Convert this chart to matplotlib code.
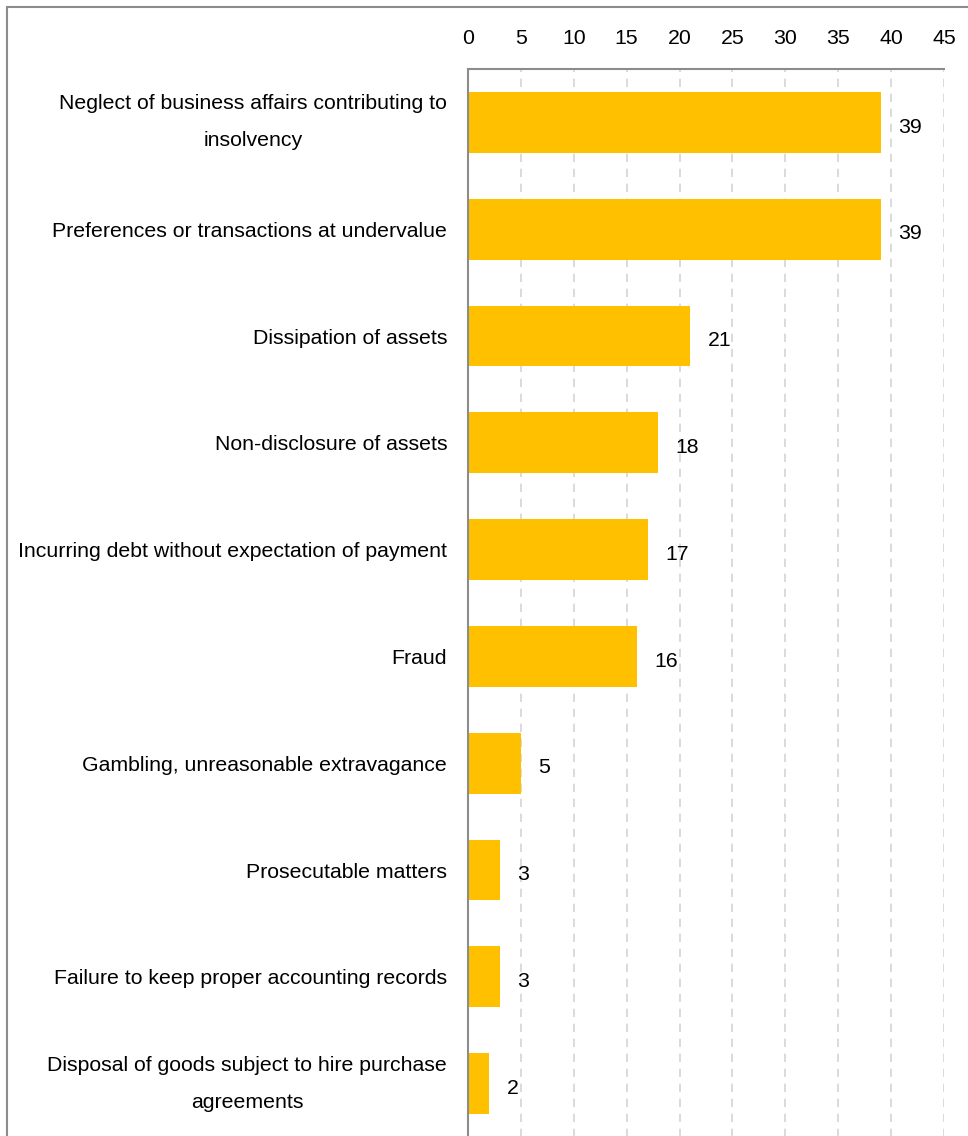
import matplotlib.pyplot as plt
import matplotlib.transforms as mtransforms
from matplotlib.patches import Rectangle

plt.rcParams["font.family"] = ["Liberation Sans", "DejaVu Sans"]

categories = [
    "Neglect of business affairs contributing to\ninsolvency",
    "Preferences or transactions at undervalue",
    "Dissipation of assets",
    "Non-disclosure of assets",
    "Incurring debt without expectation of payment",
    "Fraud",
    "Gambling, unreasonable extravagance",
    "Prosecutable matters",
    "Failure to keep proper accounting records",
    "Disposal of goods subject to hire purchase\nagreements",
]
values = [39, 39, 21, 18, 17, 16, 5, 3, 3, 2]
x_ticks = [0, 5, 10, 15, 20, 25, 30, 35, 40, 45]

BAR_COLOR = "#FFC000"
SPINE_COLOR = "#8C8C8C"
GRID_COLOR = "#D4D4D4"
FS = 15.3

W, H = 968, 1136
fig = plt.figure(figsize=(W / 100, H / 100), dpi=100)

# figure border (cut off at right and bottom in the original)
fig.patches.append(Rectangle((7 / W, -0.1), 1.2, 1 - 7 / H + 0.1,
                             transform=fig.transFigure, fill=False,
                             edgecolor=SPINE_COLOR, linewidth=1.5))

ax = fig.add_axes([468 / W, -1 / H, (944 - 468) / W, (1137 - 69) / H])

pos = list(range(len(categories)))
ax.barh(pos, values, height=0.57, color=BAR_COLOR, zorder=2)

for p, v in zip(pos, values):
    ax.annotate(str(v), (v, p), xytext=(12.5, -2), textcoords="offset points",
                ha="left", va="center_baseline", fontsize=FS, color="#000000")

ax.set_xlim(0, 45)
ax.set_ylim(len(categories) - 0.5, -0.5)
ax.set_xticks(x_ticks)
ax.set_yticks(pos)
ax.set_yticklabels(categories, multialignment="center", linespacing=2.2)
# two-line labels: centre the whole block, nudged a touch lower
nudge = mtransforms.ScaledTranslation(0, -2 / 100, fig.dpi_scale_trans)
for lbl in ax.get_yticklabels():
    if "\n" in lbl.get_text():
        lbl.set_verticalalignment("center")
        lbl.set_transform(lbl.get_transform() + nudge)
ax.xaxis.tick_top()
ax.tick_params(axis="x", length=0, pad=15, labelsize=FS)
ax.tick_params(axis="y", length=0, pad=15, labelsize=FS)

ax.grid(axis="x", color=GRID_COLOR, linestyle=(0, (5, 4)), linewidth=1.2,
        zorder=0)
ax.set_axisbelow(True)

for side in ("right", "bottom"):
    ax.spines[side].set_visible(False)
for side in ("left", "top"):
    ax.spines[side].set_color(SPINE_COLOR)
    ax.spines[side].set_linewidth(1.5)
    ax.spines[side].set_zorder(3)

fig.savefig("out.png", dpi=100, facecolor="white")
